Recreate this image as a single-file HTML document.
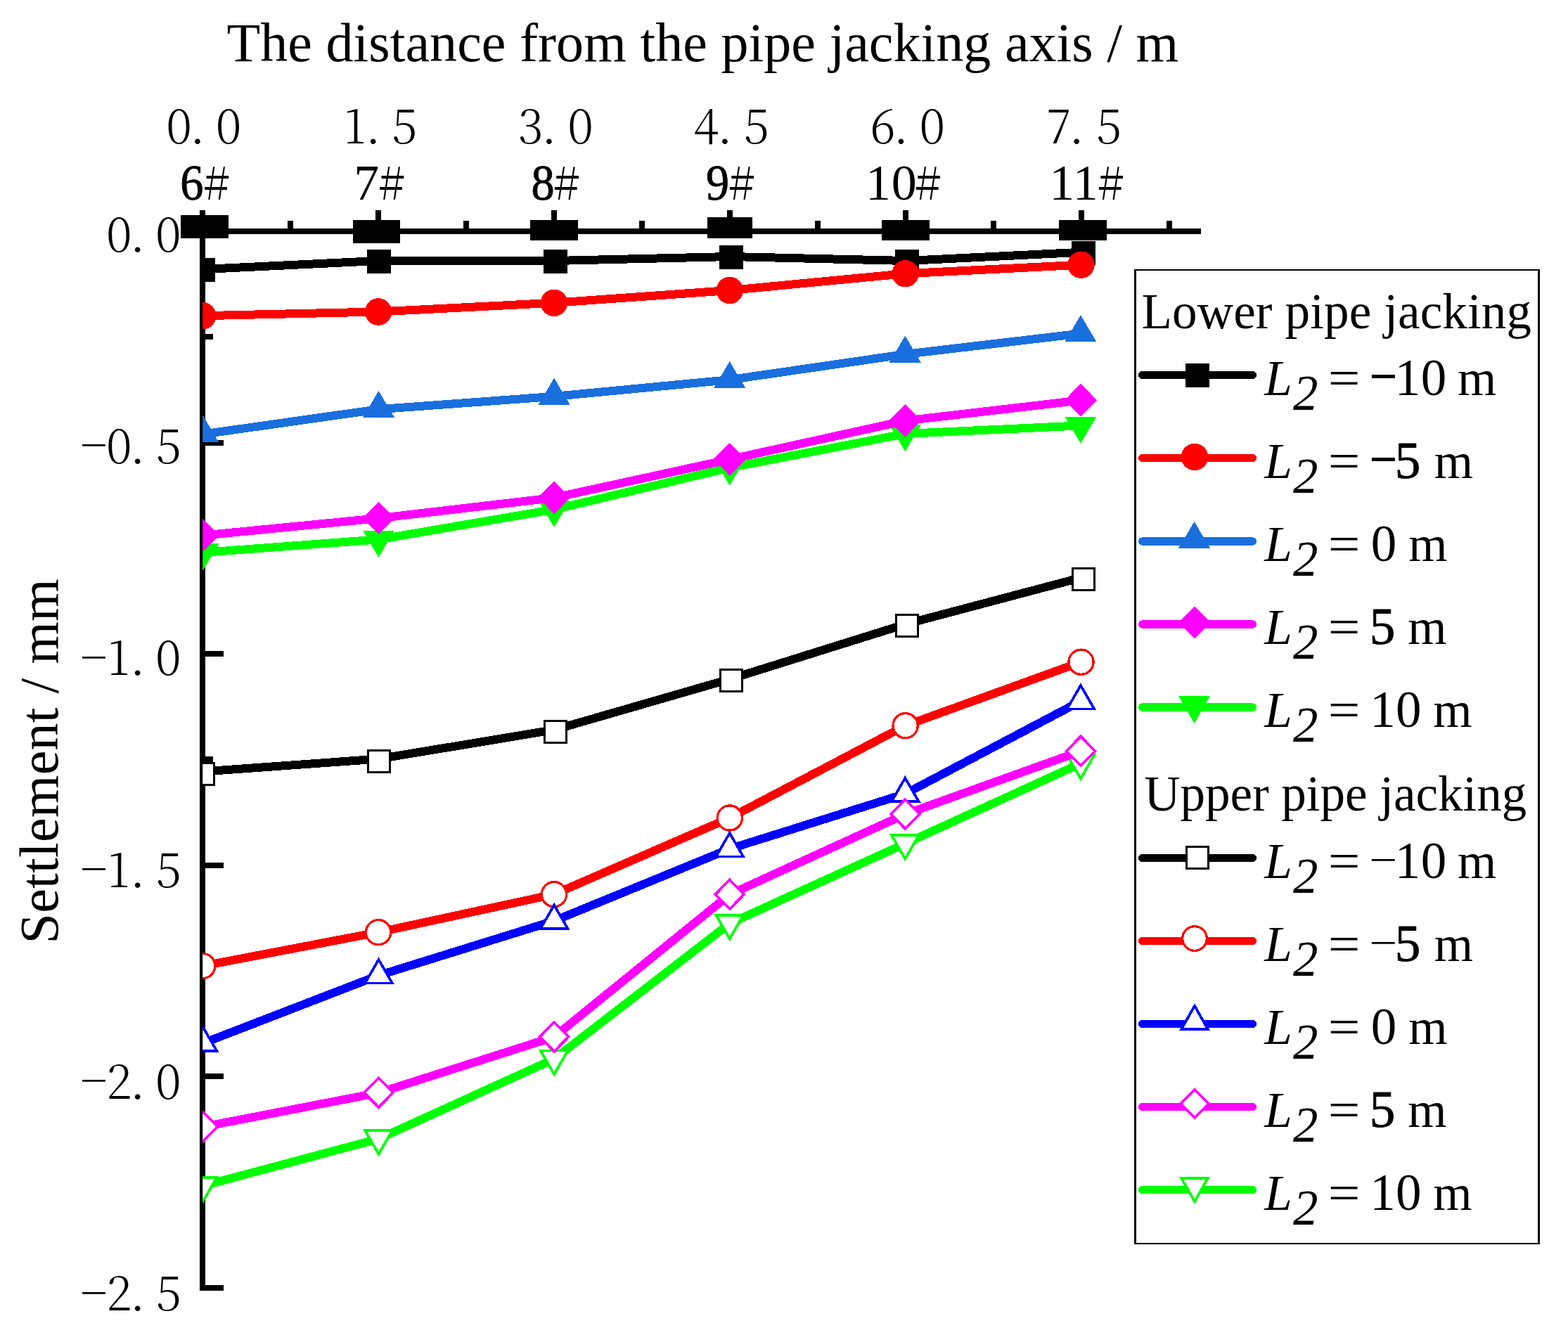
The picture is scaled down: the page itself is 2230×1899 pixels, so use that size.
<!DOCTYPE html>
<html lang="en"><head><meta charset="utf-8"><title>Settlement versus distance from the pipe jacking axis</title>
<style>html,body{margin:0;padding:0;background:#ffffff}body{width:2230px;height:1899px;overflow:hidden}svg{display:block}text{font-family:"Liberation Serif",serif;fill:#000}.ss{font-family:"Noto Serif CJK SC","Liberation Serif",serif;font-weight:300}.it{font-style:italic}</style></head><body>
<svg width="2230" height="1899" viewBox="0 0 2230 1899" role="img" aria-label="Settlement versus distance from the pipe jacking axis">
<rect width="2230" height="1899" fill="#ffffff"/>
<defs><clipPath id="plot"><rect x="288.2" y="0" width="1700" height="1899"/></clipPath></defs>
<g id="ticks" stroke="#000" stroke-width="8" fill="none" shape-rendering="crispEdges">
<line x1="288" y1="299" x2="288" y2="329"/>
<line x1="538" y1="299" x2="538" y2="329"/>
<line x1="788" y1="299" x2="788" y2="329"/>
<line x1="1038" y1="299" x2="1038" y2="329"/>
<line x1="1288" y1="299" x2="1288" y2="329"/>
<line x1="1538" y1="299" x2="1538" y2="329"/>
<line x1="413" y1="314" x2="413" y2="329"/>
<line x1="663" y1="314" x2="663" y2="329"/>
<line x1="913" y1="314" x2="913" y2="329"/>
<line x1="1163" y1="314" x2="1163" y2="329"/>
<line x1="1413" y1="314" x2="1413" y2="329"/>
<line x1="1663" y1="314" x2="1663" y2="329"/>
<line x1="288" y1="629.5" x2="318" y2="629.5"/>
<line x1="288" y1="930" x2="318" y2="930"/>
<line x1="288" y1="1230.5" x2="318" y2="1230.5"/>
<line x1="288" y1="1531" x2="318" y2="1531"/>
<line x1="288" y1="1831.5" x2="318" y2="1831.5"/>
<line x1="288" y1="479.25" x2="303" y2="479.25"/>
<line x1="288" y1="779.75" x2="303" y2="779.75"/>
<line x1="288" y1="1080.25" x2="303" y2="1080.25"/>
<line x1="288" y1="1380.75" x2="303" y2="1380.75"/>
<line x1="288" y1="1681.25" x2="303" y2="1681.25"/>
</g>
<g id="axes" stroke="#000" stroke-width="8" fill="none" shape-rendering="crispEdges">
<line x1="284" y1="329" x2="1708" y2="329"/>
<line x1="288" y1="299" x2="288" y2="1835.5"/>
</g>
<g id="series" clip-path="url(#plot)" shape-rendering="crispEdges">
<g id="sA">
<polyline points="287.62,383.1 538,371 788.77,371 1038.75,365 1289.12,371 1539.5,358.7" fill="none" stroke="#000000" stroke-width="12" stroke-linejoin="round"/>
<rect x="271.62" y="367.1" width="34" height="34" fill="#000000"/>
<rect x="522" y="355" width="34" height="34" fill="#000000"/>
<rect x="772.77" y="355" width="34" height="34" fill="#000000"/>
<rect x="1022.75" y="349" width="34" height="34" fill="#000000"/>
<rect x="1273.12" y="355" width="34" height="34" fill="#000000"/>
<rect x="1523.5" y="342.7" width="34" height="34" fill="#000000"/>
</g>
<g id="sB">
<polyline points="288.25,449.2 538.1,443.5 787.95,430.8 1037.8,413 1287.65,389.2 1537.5,376.7" fill="none" stroke="#ff0000" stroke-width="12" stroke-linejoin="round"/>
<circle cx="288.25" cy="449.2" r="19.25" fill="#ff0000"/>
<circle cx="538.1" cy="443.5" r="19.25" fill="#ff0000"/>
<circle cx="787.95" cy="430.8" r="19.25" fill="#ff0000"/>
<circle cx="1037.8" cy="413" r="19.25" fill="#ff0000"/>
<circle cx="1287.65" cy="389.2" r="19.25" fill="#ff0000"/>
<circle cx="1537.5" cy="376.7" r="19.25" fill="#ff0000"/>
</g>
<g id="sC">
<polyline points="288.9,617.6 538.5,582.2 788.1,563.9 1037.7,540.2 1287.3,503.9 1536.9,474.5" fill="none" stroke="#1a6fdf" stroke-width="12" stroke-linejoin="round"/>
<polygon points="288.9,591.4 311.4,629.4 266.4,629.4" fill="#1a6fdf"/>
<polygon points="538.5,556 561,594 516,594" fill="#1a6fdf"/>
<polygon points="788.1,537.7 810.6,575.7 765.6,575.7" fill="#1a6fdf"/>
<polygon points="1037.7,514 1060.2,552 1015.2,552" fill="#1a6fdf"/>
<polygon points="1287.3,477.7 1309.8,515.7 1264.8,515.7" fill="#1a6fdf"/>
<polygon points="1536.9,448.3 1559.4,486.3 1514.4,486.3" fill="#1a6fdf"/>
</g>
<g id="sE">
<polyline points="288.9,785.9 538.5,767.4 788.1,724.7 1037.7,665.4 1287.3,617 1536.9,605.4" fill="none" stroke="#00ff00" stroke-width="12" stroke-linejoin="round"/>
<polygon points="288.9,811.2 311.4,773.2 266.4,773.2" fill="#00ff00"/>
<polygon points="538.5,792.7 561,754.7 516,754.7" fill="#00ff00"/>
<polygon points="788.1,750 810.6,712 765.6,712" fill="#00ff00"/>
<polygon points="1037.7,690.7 1060.2,652.7 1015.2,652.7" fill="#00ff00"/>
<polygon points="1287.3,642.3 1309.8,604.3 1264.8,604.3" fill="#00ff00"/>
<polygon points="1536.9,630.7 1559.4,592.7 1514.4,592.7" fill="#00ff00"/>
</g>
<g id="sD">
<polyline points="288.88,761.6 538.5,737.2 788.12,708 1037.75,653.5 1287.38,598.5 1537,569.4" fill="none" stroke="#ff00ff" stroke-width="12" stroke-linejoin="round"/>
<polygon points="288.88,737.9 311.88,761.4 288.88,784.9 265.88,761.4" fill="#ff00ff"/>
<polygon points="538.5,713.5 561.5,737 538.5,760.5 515.5,737" fill="#ff00ff"/>
<polygon points="788.12,684.3 811.12,707.8 788.12,731.3 765.12,707.8" fill="#ff00ff"/>
<polygon points="1037.75,629.8 1060.75,653.3 1037.75,676.8 1014.75,653.3" fill="#ff00ff"/>
<polygon points="1287.38,574.8 1310.38,598.3 1287.38,621.8 1264.38,598.3" fill="#ff00ff"/>
<polygon points="1537,545.7 1560,569.2 1537,592.7 1514,569.2" fill="#ff00ff"/>
</g>
<g id="sF">
<polyline points="287.62,1097.6 538,1079.6 788.77,1038 1038.75,965.8 1289.12,887.5 1539.5,821.2" fill="none" stroke="#000000" stroke-width="12" stroke-linejoin="round"/>
<rect x="273.12" y="1085.7" width="31" height="31" fill="#ffffff" stroke="#000000" stroke-width="3" stroke-linejoin="miter"/>
<rect x="523.5" y="1067.5" width="31" height="31" fill="#ffffff" stroke="#000000" stroke-width="3" stroke-linejoin="miter"/>
<rect x="774.27" y="1025" width="31" height="31" fill="#ffffff" stroke="#000000" stroke-width="3" stroke-linejoin="miter"/>
<rect x="1024.25" y="952.8" width="31" height="31" fill="#ffffff" stroke="#000000" stroke-width="3" stroke-linejoin="miter"/>
<rect x="1274.62" y="874.5" width="31" height="31" fill="#ffffff" stroke="#000000" stroke-width="3" stroke-linejoin="miter"/>
<rect x="1525" y="808.2" width="31" height="31" fill="#ffffff" stroke="#000000" stroke-width="3" stroke-linejoin="miter"/>
</g>
<g id="sG">
<polyline points="288.25,1374 538.1,1326.2 787.95,1272.2 1037.8,1163.5 1287.65,1032.2 1537.5,941.7" fill="none" stroke="#ff0000" stroke-width="12" stroke-linejoin="round"/>
<circle cx="288.25" cy="1374" r="17.6" fill="#ffffff" stroke="#ff0000" stroke-width="3.3" stroke-linejoin="miter"/>
<circle cx="538.1" cy="1326.2" r="17.6" fill="#ffffff" stroke="#ff0000" stroke-width="3.3" stroke-linejoin="miter"/>
<circle cx="787.95" cy="1272.2" r="17.6" fill="#ffffff" stroke="#ff0000" stroke-width="3.3" stroke-linejoin="miter"/>
<circle cx="1037.8" cy="1163.5" r="17.6" fill="#ffffff" stroke="#ff0000" stroke-width="3.3" stroke-linejoin="miter"/>
<circle cx="1287.65" cy="1032.2" r="17.6" fill="#ffffff" stroke="#ff0000" stroke-width="3.3" stroke-linejoin="miter"/>
<circle cx="1537.5" cy="941.7" r="17.6" fill="#ffffff" stroke="#ff0000" stroke-width="3.3" stroke-linejoin="miter"/>
</g>
<g id="sH">
<polyline points="288.9,1483.9 538.5,1387.5 788.1,1309.9 1037.7,1207.5 1287.3,1129.2 1536.9,997.5" fill="none" stroke="#0000ff" stroke-width="12" stroke-linejoin="round"/>
<polygon points="288.9,1461.4 308.2,1494.85 269.6,1494.85" fill="#ffffff" stroke="#0000ff" stroke-width="3.7" stroke-linejoin="miter"/>
<polygon points="538.5,1365 557.8,1398.45 519.2,1398.45" fill="#ffffff" stroke="#0000ff" stroke-width="3.7" stroke-linejoin="miter"/>
<polygon points="788.1,1287.4 807.4,1320.85 768.8,1320.85" fill="#ffffff" stroke="#0000ff" stroke-width="3.7" stroke-linejoin="miter"/>
<polygon points="1037.7,1185 1057,1218.45 1018.4,1218.45" fill="#ffffff" stroke="#0000ff" stroke-width="3.7" stroke-linejoin="miter"/>
<polygon points="1287.3,1106.7 1306.6,1140.15 1268,1140.15" fill="#ffffff" stroke="#0000ff" stroke-width="3.7" stroke-linejoin="miter"/>
<polygon points="1536.9,975 1556.2,1008.45 1517.6,1008.45" fill="#ffffff" stroke="#0000ff" stroke-width="3.7" stroke-linejoin="miter"/>
</g>
<g id="sJ">
<polyline points="288.9,1686.7 538.5,1620 788.1,1506.4 1037.7,1313.7 1287.3,1200 1536.9,1086" fill="none" stroke="#00ff00" stroke-width="12" stroke-linejoin="round"/>
<polygon points="288.9,1708.3 308.2,1674.85 269.6,1674.85" fill="#ffffff" stroke="#00ff00" stroke-width="3.7" stroke-linejoin="miter"/>
<polygon points="538.5,1641.6 557.8,1608.15 519.2,1608.15" fill="#ffffff" stroke="#00ff00" stroke-width="3.7" stroke-linejoin="miter"/>
<polygon points="788.1,1528 807.4,1494.55 768.8,1494.55" fill="#ffffff" stroke="#00ff00" stroke-width="3.7" stroke-linejoin="miter"/>
<polygon points="1037.7,1335.3 1057,1301.85 1018.4,1301.85" fill="#ffffff" stroke="#00ff00" stroke-width="3.7" stroke-linejoin="miter"/>
<polygon points="1287.3,1221.6 1306.6,1188.15 1268,1188.15" fill="#ffffff" stroke="#00ff00" stroke-width="3.7" stroke-linejoin="miter"/>
<polygon points="1536.9,1107.6 1556.2,1074.15 1517.6,1074.15" fill="#ffffff" stroke="#00ff00" stroke-width="3.7" stroke-linejoin="miter"/>
</g>
<g id="sI">
<polyline points="288.88,1602.9 538.5,1554.5 788.12,1475 1037.75,1272.4 1287.38,1158.2 1537,1068.5" fill="none" stroke="#ff00ff" stroke-width="12" stroke-linejoin="round"/>
<polygon points="288.88,1581.84 309.29,1602.7 288.88,1623.56 268.46,1602.7" fill="#ffffff" stroke="#ff00ff" stroke-width="3.7" stroke-linejoin="miter"/>
<polygon points="538.5,1533.44 558.91,1554.3 538.5,1575.16 518.09,1554.3" fill="#ffffff" stroke="#ff00ff" stroke-width="3.7" stroke-linejoin="miter"/>
<polygon points="788.12,1453.94 808.54,1474.8 788.12,1495.66 767.71,1474.8" fill="#ffffff" stroke="#ff00ff" stroke-width="3.7" stroke-linejoin="miter"/>
<polygon points="1037.75,1251.34 1058.16,1272.2 1037.75,1293.06 1017.34,1272.2" fill="#ffffff" stroke="#ff00ff" stroke-width="3.7" stroke-linejoin="miter"/>
<polygon points="1287.38,1137.14 1307.79,1158 1287.38,1178.86 1266.96,1158" fill="#ffffff" stroke="#ff00ff" stroke-width="3.7" stroke-linejoin="miter"/>
<polygon points="1537,1047.44 1557.41,1068.3 1537,1089.16 1516.59,1068.3" fill="#ffffff" stroke="#ff00ff" stroke-width="3.7" stroke-linejoin="miter"/>
</g>
</g>
<g id="blocks" fill="#000" shape-rendering="crispEdges">
<rect x="256.9" y="305.9" width="68.1" height="33"/>
<rect x="502" y="312.7" width="67" height="33"/>
<rect x="754" y="312.7" width="68" height="29.3"/>
<rect x="1006" y="309.3" width="64" height="29.7"/>
<rect x="1254" y="312.7" width="68.3" height="29.3"/>
<rect x="1506" y="312.7" width="68" height="29.3"/>
</g>
<g id="title">
<text x="322.6" y="87.2" font-size="78" textLength="1353.6" lengthAdjust="spacing">The distance from the pipe jacking axis / m</text>
</g>
<g id="ylabel">
<text transform="translate(82.3 1342.4) rotate(-90)" font-size="78" textLength="519.2" lengthAdjust="spacing">Settlement / mm</text>
</g>
<g id="xticklabels">
<text class="ss" font-size="66" x="236.38 270.16 306.88" y="203.6">0.0</text>
<text class="ss" font-size="66" x="489.01 519.96 557.26" y="203.6">1.5</text>
<text class="ss" font-size="66" x="736.76 770.16 807.58" y="203.6">3.0</text>
<text class="ss" font-size="66" x="986.25 1020.26 1057.86" y="203.6">4.5</text>
<text class="ss" font-size="66" x="1237.18 1270.66 1307.78" y="203.6">6.0</text>
<text class="ss" font-size="66" x="1488.11 1520.56 1559.01" y="203.6">7.5</text>
<text font-size="72" y="283.8"><tspan x="256.31" textLength="33.12" lengthAdjust="spacingAndGlyphs" stroke="#000" stroke-width="0.9" stroke-linejoin="round">6</tspan><tspan class="ss" font-size="66" x="289.39">#</tspan></text>
<text font-size="72" x="503.16" y="283.8">7<tspan class="ss" font-size="66" x="538.39">#</tspan></text>
<text font-size="72" y="283.8"><tspan x="755.44" textLength="33.12" lengthAdjust="spacingAndGlyphs" stroke="#000" stroke-width="0.9" stroke-linejoin="round">8</tspan><tspan class="ss" font-size="66" x="787.14">#</tspan></text>
<text font-size="72" y="283.8"><tspan x="1004.07" textLength="33.12" lengthAdjust="spacingAndGlyphs" stroke="#000" stroke-width="0.9" stroke-linejoin="round">9</tspan><tspan class="ss" font-size="66" x="1036.19">#</tspan></text>
<text font-size="72" x="1231.12 1267.7" y="283.8">10<tspan class="ss" font-size="66" x="1301.24">#</tspan></text>
<text font-size="72" x="1492.32 1525.77" y="283.8">11<tspan class="ss" font-size="66" x="1561.29">#</tspan></text>
</g>
<g id="yticklabels">
<text class="ss" font-size="66" x="151.13 184.96 221.33" y="357.6">0.0</text>
<text class="ss" font-size="66" x="114.41 151.13 184.96 221.66" y="657.4 658.9 658.9 658.9">−0.5</text>
<text class="ss" font-size="66" x="114.41 153.11 184.96 221.33" y="958.7 960.2 960.2 960.2">−1.0</text>
<text class="ss" font-size="66" x="114.41 153.11 184.96 221.66" y="1260 1261.5 1261.5 1261.5">−1.5</text>
<text class="ss" font-size="66" x="114.41 151.13 184.96 221.33" y="1561.3 1562.8 1562.8 1562.8">−2.0</text>
<text class="ss" font-size="66" x="114.41 151.13 184.96 221.66" y="1862.6 1864.1 1864.1 1864.1">−2.5</text>
</g>
<g id="legend" shape-rendering="crispEdges">
<rect x="1613" y="383" width="577" height="1387" fill="#000"/>
<rect x="1616" y="385" width="571" height="1383" fill="#ffffff"/>
<text x="1623.6" y="466.8" font-size="71" textLength="554.4" lengthAdjust="spacing">Lower pipe jacking</text>
<text x="1627.2" y="1153.3" font-size="71" textLength="544" lengthAdjust="spacing">Upper pipe jacking</text>
<line x1="1624.7" y1="533.5" x2="1781.3" y2="533.5" stroke="#000000" stroke-width="11.4" stroke-linecap="round"/>
<rect x="1686" y="516.5" width="34" height="34" fill="#000000"/>
<text font-size="71" y="561.5"><tspan class="it" x="1798.2">L</tspan><tspan class="it" x="1838.96" dy="21.2">2</tspan> <tspan x="1888.85" dy="-21.2" textLength="45.73" lengthAdjust="spacingAndGlyphs">=</tspan> <tspan x="1947.07" dy="-2.2" font-weight="bold">−</tspan><tspan x="1983.65" dy="2.2" font-size="73">1</tspan><tspan x="2020.75" font-size="73">0</tspan> <tspan x="2073.06">m</tspan></text>
<line x1="1624.7" y1="651.5" x2="1781.3" y2="651.5" stroke="#ff0000" stroke-width="11.4" stroke-linecap="round"/>
<circle cx="1699" cy="650" r="19.25" fill="#ff0000"/>
<text font-size="71" y="679.5"><tspan class="it" x="1798.2">L</tspan><tspan class="it" x="1838.96" dy="21.2">2</tspan> <tspan x="1888.85" dy="-21.2" textLength="45.73" lengthAdjust="spacingAndGlyphs">=</tspan> <tspan x="1947.07" dy="-2.2" font-weight="bold">−</tspan><tspan x="1983.82" dy="2.2" font-size="73" stroke="#000" stroke-width="0.9" stroke-linejoin="round">5</tspan> <tspan x="2039.66">m</tspan></text>
<line x1="1624.7" y1="770" x2="1781.3" y2="770" stroke="#1a6fdf" stroke-width="11.4" stroke-linecap="round"/>
<polygon points="1698.5,742 1721,780 1676,780" fill="#1a6fdf"/>
<text font-size="71" y="798"><tspan class="it" x="1798.2">L</tspan><tspan class="it" x="1838.96" dy="21.2">2</tspan> <tspan x="1888.85" dy="-21.2" textLength="45.73" lengthAdjust="spacingAndGlyphs">=</tspan> <tspan x="1949.85" font-size="73">0</tspan> <tspan x="2003.16">m</tspan></text>
<line x1="1624.7" y1="888" x2="1781.3" y2="888" stroke="#ff00ff" stroke-width="11.4" stroke-linecap="round"/>
<polygon points="1699,862 1722,885.5 1699,909 1676,885.5" fill="#ff00ff"/>
<text font-size="71" y="916"><tspan class="it" x="1798.2">L</tspan><tspan class="it" x="1838.96" dy="21.2">2</tspan> <tspan x="1888.85" dy="-21.2" textLength="45.73" lengthAdjust="spacingAndGlyphs">=</tspan> <tspan x="1947.72" font-size="73" stroke="#000" stroke-width="0.9" stroke-linejoin="round">5</tspan> <tspan x="2002.16">m</tspan></text>
<line x1="1624.7" y1="1006" x2="1781.3" y2="1006" stroke="#00ff00" stroke-width="11.4" stroke-linecap="round"/>
<polygon points="1698.5,1029 1721,990 1676,990" fill="#00ff00"/>
<text font-size="71" y="1034"><tspan class="it" x="1798.2">L</tspan><tspan class="it" x="1838.96" dy="21.2">2</tspan> <tspan x="1888.85" dy="-21.2" textLength="45.73" lengthAdjust="spacingAndGlyphs">=</tspan> <tspan x="1948.36" font-size="73">1</tspan><tspan x="1985.05" font-size="73">0</tspan> <tspan x="2038.16">m</tspan></text>
<line x1="1624.7" y1="1220.5" x2="1781.3" y2="1220.5" stroke="#000000" stroke-width="11.4" stroke-linecap="round"/>
<rect x="1687.5" y="1204.5" width="31" height="31" fill="#ffffff" stroke="#000000" stroke-width="3" stroke-linejoin="miter"/>
<text font-size="71" y="1248.5"><tspan class="it" x="1798.2">L</tspan><tspan class="it" x="1838.96" dy="21.2">2</tspan> <tspan x="1888.85" dy="-21.2" textLength="45.73" lengthAdjust="spacingAndGlyphs">=</tspan> <tspan x="1948.36" dy="-2" class="ss" font-size="66">−</tspan><tspan x="1983.65" dy="2" font-size="73">1</tspan><tspan x="2020.75" font-size="73">0</tspan> <tspan x="2073.06">m</tspan></text>
<line x1="1624.7" y1="1338.5" x2="1781.3" y2="1338.5" stroke="#ff0000" stroke-width="11.4" stroke-linecap="round"/>
<circle cx="1699" cy="1335" r="17.35" fill="#ffffff" stroke="#ff0000" stroke-width="3.3" stroke-linejoin="miter"/>
<text font-size="71" y="1366.5"><tspan class="it" x="1798.2">L</tspan><tspan class="it" x="1838.96" dy="21.2">2</tspan> <tspan x="1888.85" dy="-21.2" textLength="45.73" lengthAdjust="spacingAndGlyphs">=</tspan> <tspan x="1948.36" dy="-2" class="ss" font-size="66">−</tspan><tspan x="1983.82" dy="2" font-size="73" stroke="#000" stroke-width="0.9" stroke-linejoin="round">5</tspan> <tspan x="2039.66">m</tspan></text>
<line x1="1624.7" y1="1456.5" x2="1781.3" y2="1456.5" stroke="#0000ff" stroke-width="11.4" stroke-linecap="round"/>
<polygon points="1699,1430.77 1717.83,1464.15 1680.17,1464.15" fill="#ffffff" stroke="#0000ff" stroke-width="3.7" stroke-linejoin="miter"/>
<text font-size="71" y="1484.5"><tspan class="it" x="1798.2">L</tspan><tspan class="it" x="1838.96" dy="21.2">2</tspan> <tspan x="1888.85" dy="-21.2" textLength="45.73" lengthAdjust="spacingAndGlyphs">=</tspan> <tspan x="1949.85" font-size="73">0</tspan> <tspan x="2003.16">m</tspan></text>
<line x1="1624.7" y1="1574.5" x2="1781.3" y2="1574.5" stroke="#ff00ff" stroke-width="11.4" stroke-linecap="round"/>
<polygon points="1699,1549.62 1719.38,1570 1699,1590.38 1678.62,1570" fill="#ffffff" stroke="#ff00ff" stroke-width="3.7" stroke-linejoin="miter"/>
<text font-size="71" y="1602.5"><tspan class="it" x="1798.2">L</tspan><tspan class="it" x="1838.96" dy="21.2">2</tspan> <tspan x="1888.85" dy="-21.2" textLength="45.73" lengthAdjust="spacingAndGlyphs">=</tspan> <tspan x="1947.72" font-size="73" stroke="#000" stroke-width="0.9" stroke-linejoin="round">5</tspan> <tspan x="2002.16">m</tspan></text>
<line x1="1624.7" y1="1692.5" x2="1781.3" y2="1692.5" stroke="#00ff00" stroke-width="11.4" stroke-linecap="round"/>
<polygon points="1699,1709.23 1717.83,1675.85 1680.17,1675.85" fill="#ffffff" stroke="#00ff00" stroke-width="3.7" stroke-linejoin="miter"/>
<text font-size="71" y="1720.5"><tspan class="it" x="1798.2">L</tspan><tspan class="it" x="1838.96" dy="21.2">2</tspan> <tspan x="1888.85" dy="-21.2" textLength="45.73" lengthAdjust="spacingAndGlyphs">=</tspan> <tspan x="1948.36" font-size="73">1</tspan><tspan x="1985.05" font-size="73">0</tspan> <tspan x="2038.16">m</tspan></text>
</g>
</svg></body></html>
